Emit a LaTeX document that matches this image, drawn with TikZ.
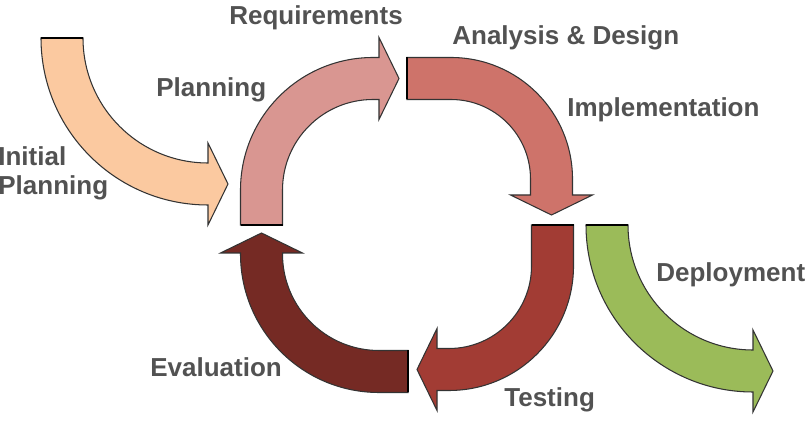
\documentclass[tikz,border=0pt]{standalone}
\usepackage{fontspec}
\setmainfont{Liberation Sans}
\usetikzlibrary{calc}
\definecolor{peach}{RGB}{251,201,160}
\definecolor{rose}{RGB}{217,150,145}
\definecolor{salmon}{RGB}{206,115,106}
\definecolor{brick}{RGB}{162,60,52}
\definecolor{maroon}{RGB}{117,42,36}
\definecolor{leaf}{RGB}{155,187,89}
\definecolor{labelgray}{RGB}{82,82,82}

% #1 colour, #2/#3 centre, #4 radius, #5 start, #6 end,
% #7 straight tail, #8 straight neck, #9 tip direction
\newcommand{\bentarrow}[9]{%
  \pgfmathsetmacro{\taildir}{#5+#9-#6}
  \filldraw[arrowbody,fill=#1]
    ($(#2,#3)+(#5:#4+21)-(\taildir:#7)$) coordinate (t1)
    -- ++(\taildir:#7)
    arc[start angle=#5,end angle=#6,radius=#4+21]
    -- ++(#9:#8) -- ++(#6:20)
    -- ($(#2,#3)+(#6:#4)+(#9:#8+20)$)
    -- ($(#2,#3)+(#6:#4-41)+(#9:#8)$)
    -- ++(#6:20)
    -- ++(#9+180:#8)
    arc[start angle=#6,end angle=#5,radius=#4-21]
    -- ++(\taildir+180:#7) coordinate (t2)
    -- cycle;
  \draw[arrowtail] (t1) -- (t2);
}

\begin{document}
\begin{tikzpicture}[x=0.02cm,y=0.02cm,line join=miter,
  arrowbody/.style={draw=black!80,line width=0.6pt},
  arrowtail/.style={draw=black,line width=1.5pt},
  phase/.style={anchor=base west,inner sep=0pt,text=labelgray,
    font=\fontsize{14.8pt}{17pt}\selectfont\bfseries}]
  \useasboundingbox (0,0) rectangle (811,422);
  % arrows
  \bentarrow{peach}{208}{384}{146}{180}{270}{0}{0}{0}
  \bentarrow{rose}{373}{232}{111.5}{180}{90}{35}{6}{0}
  \bentarrow{salmon}{451}{243}{100.5}{90}{0}{44}{16}{270}
  \bentarrow{brick}{449}{156}{103.5}{0}{-90}{41}{12}{180}
  \bentarrow{maroon}{379}{168}{117.5}{-90}{-180}{29}{1}{90}
  \bentarrow{leaf}{753}{197}{146}{180}{270}{0}{0}{0}
  % labels
  \node[phase] (initial) at (-2,256) {Initial};
  \node[phase] (initplan) at (-2,227) {Planning};
  \node[phase] (planning) at (156,325) {Planning};
  \node[phase] (require) at (229,397) {Requirements};
  \node[phase] (analysis) at (452,377) {Analysis \& Design};
  \node[phase] (implement) at (567,305) {Implementation};
  \node[phase] (deploy) at (656,140) {Deployment};
  \node[phase] (testing) at (504,15) {Testing};
  \node[phase] (evaluation) at (150,45) {Evaluation};
\end{tikzpicture}
\end{document}
